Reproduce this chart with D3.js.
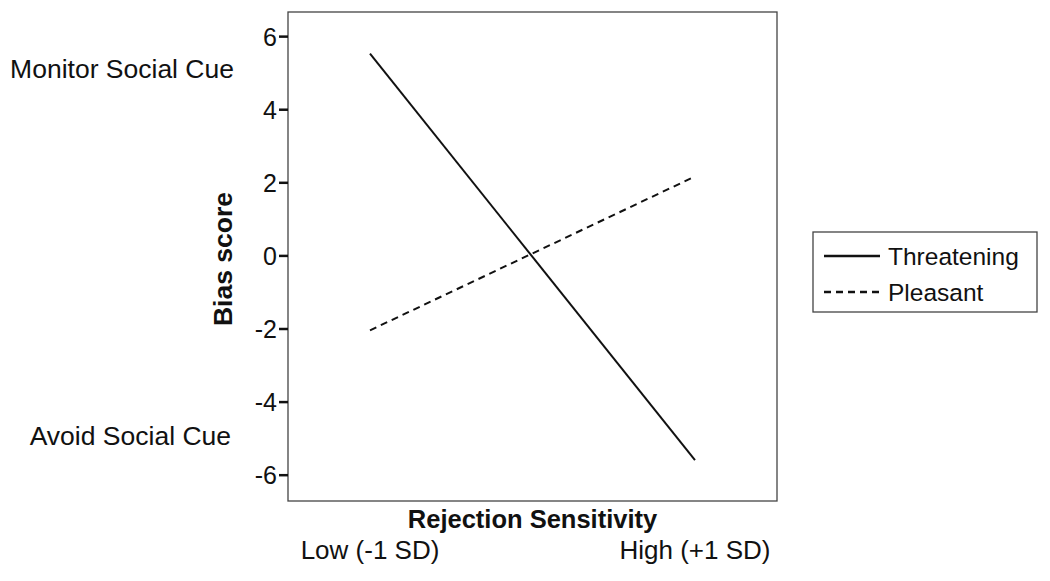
<!DOCTYPE html>
<html>
<head>
<meta charset="utf-8">
<title>Bias score by Rejection Sensitivity</title>
<script src="https://d3js.org/d3.v7.min.js"></script>
<style>
  body { margin: 0; background: #fff; }
  text { font-family: "Liberation Sans", Arial, sans-serif; fill: #111; }
</style>
</head>
<body>
<div id="chart"></div>
<script>
  // data
  var levels = ["Low (-1 SD)", "High (+1 SD)"];
  var threatening = [5.52, -5.6];
  var pleasant = [-2.05, 2.16];
  var yTicks = [-6, -4, -2, 0, 2, 4, 6];

  var series = [
    { name: "Threatening", values: threatening, dash: null },
    { name: "Pleasant", values: pleasant, dash: "7,5" }
  ];

  var W = 1050, H = 581;
  var box = { left: 288, right: 777, top: 12, bottom: 501 };

  var svg = d3.select("#chart").append("svg")
      .attr("width", W)
      .attr("height", H);

  var x = d3.scalePoint()
      .domain(levels)
      .range([370, 695]);

  var y = d3.scaleLinear()
      .domain([-6.72, 6.66])
      .range([box.bottom, box.top]);

  // frame
  svg.append("rect")
      .attr("x", box.left)
      .attr("y", box.top)
      .attr("width", box.right - box.left)
      .attr("height", box.bottom - box.top)
      .attr("fill", "none")
      .attr("stroke", "#444")
      .attr("stroke-width", 1.3);

  // y axis
  var yAxis = svg.append("g")
      .attr("transform", "translate(" + box.left + ",0)")
      .call(d3.axisLeft(y).tickValues(yTicks).tickSize(9).tickPadding(2)
        .tickFormat(function (d) { return d; }));
  yAxis.select(".domain").remove();
  yAxis.selectAll(".tick line").attr("stroke", "#111").attr("stroke-width", 2.5);
  yAxis.selectAll(".tick text")
      .style("font-size", "25px")
      .attr("font-family", null)
      .attr("dy", "0.36em");

  // x category labels
  svg.selectAll(".xlab")
      .data(levels)
      .enter()
      .append("text")
        .attr("class", "xlab")
        .attr("x", function (d) { return x(d); })
        .attr("y", 559)
        .attr("text-anchor", "middle")
        .style("font-size", "26px")
        .text(function (d) { return d; });

  svg.append("text")
      .attr("x", (box.left + box.right) / 2)
      .attr("y", 528)
      .attr("text-anchor", "middle")
      .style("font-size", "25.5px")
      .style("font-weight", "bold")
      .text("Rejection Sensitivity");

  svg.append("text")
      .attr("transform", "translate(232,259) rotate(-90)")
      .attr("text-anchor", "middle")
      .style("font-size", "26.5px")
      .style("font-weight", "bold")
      .text("Bias score");

  svg.append("text")
      .attr("x", 234).attr("y", 78)
      .attr("text-anchor", "end")
      .style("font-size", "26.5px")
      .text("Monitor Social Cue");

  svg.append("text")
      .attr("x", 231).attr("y", 445)
      .attr("text-anchor", "end")
      .style("font-size", "26.5px")
      .text("Avoid Social Cue");

  // lines
  var line = d3.line()
      .x(function (d, i) { return x(levels[i]); })
      .y(function (d) { return y(d); });

  svg.selectAll(".series")
      .data(series)
      .enter()
      .append("path")
        .attr("class", "series")
        .attr("d", function (d) { return line(d.values); })
        .attr("fill", "none")
        .attr("stroke", "#111")
        .attr("stroke-width", 2)
        .attr("stroke-dasharray", function (d) { return d.dash; });

  // legend
  var lg = svg.append("g").attr("transform", "translate(813,232)");
  lg.append("rect")
      .attr("width", 224)
      .attr("height", 80)
      .attr("fill", "none")
      .attr("stroke", "#444")
      .attr("stroke-width", 1.3);

  var item = lg.selectAll(".item")
      .data(series)
      .enter()
      .append("g")
        .attr("transform", function (d, i) { return "translate(0," + (24 + i * 36) + ")"; });

  item.append("line")
      .attr("x1", 11).attr("x2", 67)
      .attr("stroke", "#111")
      .attr("stroke-width", 2.5)
      .attr("stroke-dasharray", function (d) { return d.dash; });

  item.append("text")
      .attr("x", 75)
      .attr("dy", "0.35em")
      .style("font-size", "24.5px")
      .text(function (d) { return d.name; });
</script>
</body>
</html>
